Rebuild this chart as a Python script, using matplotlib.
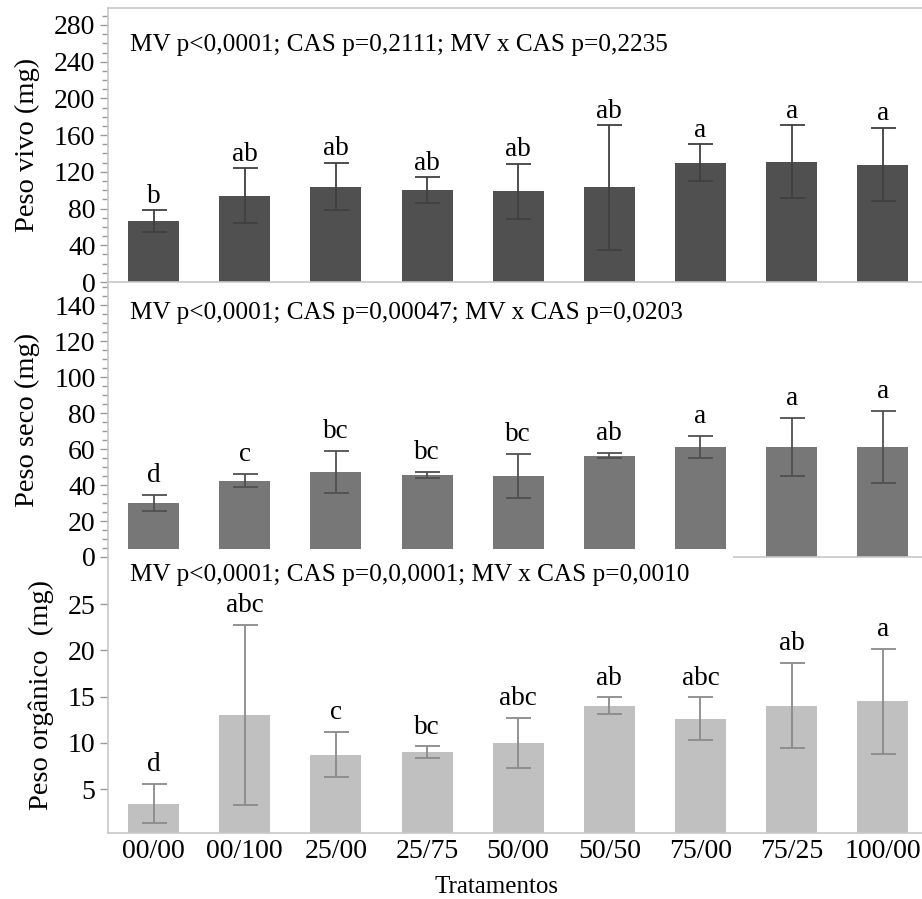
import matplotlib
matplotlib.use("Agg")
import matplotlib.pyplot as plt
from matplotlib.ticker import MultipleLocator
from matplotlib.patches import Rectangle
import numpy as np

plt.rcParams['font.family'] = ['Liberation Serif', 'DejaVu Serif']

# dados
tratamentos = ["00/00", "00/100", "25/00", "25/75", "50/00", "50/50", "75/00", "75/25", "100/00"]

peso_vivo = [66, 94, 104, 100, 99, 103, 130, 131, 128]
peso_vivo_err = [12, 30, 26, 14, 30, 68, 20, 40, 40]
letras_vivo = ["b", "ab", "ab", "ab", "ab", "ab", "a", "a", "a"]

peso_seco = [30, 42.5, 47, 45.5, 45, 56.3, 61, 61, 61]
peso_seco_err = [4.5, 3.5, 11.7, 1.5, 12, 1.5, 6, 16.2, 20]
letras_seco = ["d", "c", "bc", "bc", "bc", "ab", "a", "a", "a"]

peso_org = [3.4, 13.0, 8.7, 9.0, 10.0, 14.0, 12.6, 14.0, 14.5]
peso_org_err = [2.1, 9.7, 2.45, 0.6, 2.7, 0.9, 2.3, 4.6, 5.7]
letras_org = ["d", "abc", "c", "bc", "abc", "ab", "abc", "ab", "a"]

txt_vivo = "MV p<0,0001; CAS p=0,2111; MV x CAS p=0,2235"
txt_seco = "MV p<0,0001; CAS p=0,00047; MV x CAS p=0,0203"
txt_org = "MV p<0,0001; CAS p=0,0,0001; MV x CAS p=0,0010"

W, H = 922, 899
fig = plt.figure(figsize=(W / 100, H / 100), dpi=100)

def px_axes(top, bottom, left=108, right=922):
    return fig.add_axes([left / W, (H - bottom) / H, (right - left) / W, (bottom - top) / H])

ax1 = px_axes(8, 282)
ax2 = px_axes(282, 557)
ax3 = px_axes(557, 833)

x = np.arange(len(tratamentos))
spine_c = '#c8c8c8'

panels = [
    (ax1, peso_vivo, peso_vivo_err, letras_vivo, '#505050', '#404040', 'Peso vivo (mg)', txt_vivo, 0.865, 1),
    (ax2, peso_seco, peso_seco_err, letras_seco, '#777777', '#505050', 'Peso seco (mg)', txt_seco, 0.887, 5),
    (ax3, peso_org, peso_org_err, letras_org, '#c0c0c0', '#8a8a8a', 'Peso orgânico  (mg)', txt_org, 0.935, 5),
]

for ax, vals, err, letras, cor, ecor, ylab, txt, ty, off in panels:
    ax.bar(x, vals, width=0.56, color=cor, yerr=err,
           error_kw=dict(ecolor=ecor, elinewidth=1.3, capsize=9, capthick=1.3))
    for xi, v, e, l in zip(x, vals, err, letras):
        ax.annotate(l, (xi, v + e), xytext=(0, off), textcoords='offset points',
                    ha='center', va='bottom', fontsize=19.5)
    ax.text(0.027, ty, txt, transform=ax.transAxes, va='center', ha='left', fontsize=18.2)
    ax.set_ylabel(ylab, fontsize=20.5, labelpad=10)
    ax.set_xlim(-0.5, 8.43)
    for s in ['right', 'top']:
        ax.spines[s].set_visible(False)
    ax.spines['left'].set_color(spine_c)
    ax.spines['bottom'].set_color(spine_c)
    ax.spines['left'].set_linewidth(1.2)
    ax.spines['bottom'].set_linewidth(1.2)
    ax.tick_params(axis='y', which='major', length=6, width=1, color='#9a9a9a',
                   labelsize=20, pad=3)
    ax.tick_params(axis='y', which='minor', length=4, width=1, color='#9a9a9a')
    ax.tick_params(axis='x', length=0)
    ax.patch.set_alpha(0)

ax1.spines['top'].set_visible(True)
ax1.spines['top'].set_color(spine_c)
ax1.spines['top'].set_linewidth(1.2)

ax1.set_ylim(0, 298.5)
ax1.yaxis.set_major_locator(MultipleLocator(40))
ax1.yaxis.set_minor_locator(MultipleLocator(10))
ax1.set_xticks([])

ax2.set_ylim(0, 152.8)
ax2.yaxis.set_major_locator(MultipleLocator(20))
ax2.yaxis.set_minor_locator(MultipleLocator(5))
ax2.set_xticks([])

ax3.set_ylim(0.24, 30.1)
ax3.set_yticks([5, 10, 15, 20, 25])
ax3.set_xticks(x)
ax3.set_xticklabels(tratamentos, fontsize=20)
ax3.tick_params(axis='x', pad=4)

# faixa branca da montagem original sobre a base do painel do meio
fig.patches.append(Rectangle((109 / W, (H - 558) / H), (733 - 109) / W, 9 / H,
                             transform=fig.transFigure, facecolor='white',
                             edgecolor='none', zorder=5))

fig.text(496 / W, (H - 887) / H, 'Tratamentos', ha='center', va='center', fontsize=18)

fig.savefig('out.png', dpi=100, facecolor='white')
